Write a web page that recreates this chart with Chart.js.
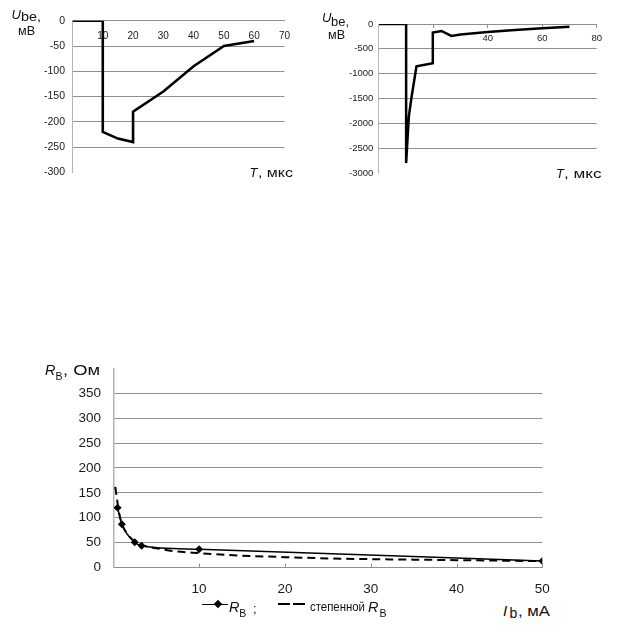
<!DOCTYPE html>
<html><head><meta charset="utf-8">
<script src="https://cdn.jsdelivr.net/npm/chart.js@4.4.1/dist/chart.umd.min.js"></script>
<style>
html,body{margin:0;padding:0;background:#fff}
body{width:617px;height:640px;position:relative;overflow:hidden;font-family:"Liberation Sans",Arial,sans-serif;color:#111;-webkit-font-smoothing:antialiased}
.box{position:absolute}
.t{position:absolute;white-space:nowrap;line-height:1;transform-origin:0 50%;color:#111}
.i{font-style:italic}
</style></head><body>
<div class="box" style="left:0;top:0;width:300px;height:190px"><canvas id="c1"></canvas></div>
<div class="box" style="left:300px;top:0;width:317px;height:190px"><canvas id="c2"></canvas></div>
<div class="box" style="left:0;top:360px;width:617px;height:240px"><canvas id="c3"></canvas></div>
<div id="txt"></div>
<script>
// ---- data: top-left chart ----
const t1 = [0, 10, 10, 15, 20, 20, 30, 40, 50, 60];
const u1 = [0, 0, -220, -233, -240, -180, -140, -90, -50, -40];
const t1Labels = [10, 20, 30, 40, 50, 60, 70];
// ---- data: top-right chart ----
const t2 = [0, 10, 10, 11, 12, 13.8, 19.8, 19.8, 23, 26.6, 30, 40, 50, 60, 70];
const u2 = [0, 0, -2800, -1860, -1470, -850, -790, -170, -140, -240, -210, -160, -120, -88, -55];
const t2Labels = [40, 60, 80];
// ---- data: bottom chart ----
const ib = [0.5, 1, 2.5, 3.3, 10, 50];
const rb = [120, 87, 51, 44, 37, 13];
const ibFit = [0.23, 0.43, 0.6, 1, 1.5, 2.5, 3.3, 5, 7, 10, 15, 20, 25, 30, 35, 40, 45, 50];
const rbFit = [162, 138, 117, 88, 71, 52, 45, 39, 33, 29, 24, 21, 18.5, 17, 16, 15, 14, 13];
const ibLabels = [10, 20, 30, 40, 50];
const rbLabels = [0, 50, 100, 150, 200, 250, 300, 350];

const FONT = '"Liberation Sans", Arial, sans-serif';
const GRID = '#8f8f8f';
const AXIS = '#b4b4b4';
const TXT = '#1a1a1a';
const pts = (xs, ys) => xs.map((x, i) => ({x, y: ys[i]}));
const hideAt = v => ctx => (ctx.tick && ctx.tick.value === v) ? 'rgba(0,0,0,0)' : GRID;
const plain = v => String(v);

Chart.defaults.font.family = FONT;
Chart.defaults.color = TXT;

const base = {
  responsive: true, maintainAspectRatio: false, animation: false,
  plugins: {legend: {display: false}, tooltip: {enabled: false}}
};
const fixY = w => s => { s.width = w; s.paddingTop = 0; s.paddingBottom = 0; };

new Chart(document.getElementById('c1'), {
  type: 'scatter',
  data: {datasets: [{data: pts(t1, u1), showLine: true, borderColor: '#000', borderWidth: 2.6,
    pointRadius: 0, tension: 0, borderJoinStyle: 'miter'}]},
  options: Object.assign({}, base, {
    layout: {padding: {left: 0, right: 12.6, top: 20.7, bottom: 17.5}},
    scales: {
      x: {type: 'linear', min: 0, max: 70, position: {y: 0},
        ticks: {stepSize: 10, padding: 10, font: {size: 10}, color: TXT,
          callback: v => t1Labels.includes(v) ? String(v) : ''},
        grid: {display: false, drawTicks: false}, border: {color: GRID, width: 1}},
      y: {type: 'linear', min: -300, max: 0,
        ticks: {stepSize: 50, padding: 7.5, font: {size: 10.5}, color: TXT, callback: plain},
        grid: {color: hideAt(-300), drawTicks: false, lineWidth: 1},
        border: {color: AXIS, width: 1},
        afterFit: fixY(72.5)}
    }
  })
});

new Chart(document.getElementById('c2'), {
  type: 'scatter',
  data: {datasets: [{data: pts(t2, u2), showLine: true, borderColor: '#000', borderWidth: 2.5,
    pointRadius: 0, tension: 0}]},
  options: Object.assign({}, base, {
    layout: {padding: {left: 0, right: 20.3, top: 24, bottom: 17}},
    scales: {
      x: {type: 'linear', min: 0, max: 80, position: {y: 0},
        ticks: {stepSize: 20, padding: 6, font: {size: 9.5}, color: TXT,
          callback: v => t2Labels.includes(v) ? String(v) : ''},
        grid: {display: true, drawOnChartArea: false, drawTicks: true, tickLength: 3, tickColor: GRID},
        border: {color: GRID, width: 1}},
      y: {type: 'linear', min: -3000, max: 0,
        ticks: {stepSize: 500, padding: 5.6, font: {size: 9.5}, color: TXT, callback: plain},
        grid: {color: hideAt(-3000), drawTicks: false},
        border: {color: AXIS, width: 1},
        afterFit: fixY(78.9)}
    }
  })
});

const innerTicks = {
  id: 'innerTicks',
  afterDraw(chart) {
    const {ctx, scales: {x, y}} = chart;
    ctx.save();
    ctx.strokeStyle = GRID; ctx.lineWidth = 1;
    const y0 = y.getPixelForValue(0);
    ibLabels.forEach(v => {
      const px = Math.round(x.getPixelForValue(v)) + 0.5;
      ctx.beginPath(); ctx.moveTo(px, y0); ctx.lineTo(px, y0 - 4); ctx.stroke();
    });
    ctx.restore();
  }
};

new Chart(document.getElementById('c3'), {
  type: 'scatter',
  data: {datasets: [
    {data: pts(ibFit, rbFit), showLine: true, borderColor: '#000', borderWidth: 2,
      borderDash: [8, 5], pointRadius: 0, cubicInterpolationMode: 'monotone'},
    {data: pts(ib, rb), showLine: true, borderColor: '#000', borderWidth: 1.5,
      pointStyle: 'rectRot', pointRadius: 4, pointBackgroundColor: '#000', pointBorderColor: '#000',
      pointBorderWidth: 0, cubicInterpolationMode: 'monotone'}
  ]},
  options: Object.assign({}, base, {
    layout: {padding: {left: 0, right: 74.7, top: 8.3, bottom: 0}},
    scales: {
      x: {type: 'linear', min: 0, max: 50, position: 'bottom',
        ticks: {stepSize: 10, padding: 14, font: {size: 13.5}, color: TXT,
          callback: v => ibLabels.includes(v) ? String(v) : ''},
        grid: {display: false, drawTicks: false}, border: {color: GRID, width: 1},
        afterFit: s => { s.height = 32.4; }},
      y: {type: 'linear', min: 0, max: 400,
        ticks: {stepSize: 50, padding: 12.3, font: {size: 13.5}, color: TXT,
          callback: v => rbLabels.includes(v) ? String(v) : ''},
        grid: {color: hideAt(400), drawTicks: false},
        border: {color: AXIS, width: 1.5},
        afterFit: fixY(113.3)}
    }
  }),
  plugins: [innerTicks]
});

// ---- axis titles and legend as real text ----
const txt = document.getElementById('txt');
function label(x, baseline, size, text, italic, width) {
  const s = document.createElement('span');
  s.className = 't' + (italic ? ' i' : '');
  s.style.left = x + 'px';
  s.style.top = (baseline - 0.8465 * size) + 'px';
  s.style.fontSize = size + 'px';
  s.textContent = text;
  txt.appendChild(s);
  if (width) {
    const w = s.getBoundingClientRect().width;
    if (w > 0) s.style.transform = 'scaleX(' + (width / w) + ')';
  }
  return s;
}
function line(x1, x2, y, w) {
  const d = document.createElement('div');
  d.style.position = 'absolute';
  d.style.left = x1 + 'px'; d.style.top = (y - w / 2) + 'px';
  d.style.width = (x2 - x1) + 'px'; d.style.height = w + 'px';
  d.style.background = '#000';
  txt.appendChild(d);
}
// top-left
label(11.5, 19.5, 13, 'U', true);
label(21, 21, 13, 'be,', false, 20);
label(17.5, 35, 13, 'мВ', false, 17);
label(249.5, 176.7, 13, 'T', true);
label(257.5, 176.7, 13, ', мкс', false, 35);
// top-right
label(322, 21.7, 13, 'U', true);
label(331, 26, 13, 'be,', false, 18);
label(328, 39.3, 13, 'мВ', false, 17);
label(556, 177.7, 13, 'T', true);
label(564, 177.7, 13, ', мкс', false, 37.5);
// bottom
label(45, 375, 14.5, 'R', true);
label(55.5, 379.5, 10.5, 'В', false);
label(62.5, 375, 14.5, ', Ом', false, 37);
label(503, 616, 15, 'I', true);
label(509.5, 617.5, 14, 'b', false);
label(518, 616, 14, ', мА', false, 32);
// legend
line(201.7, 228.3, 604.3, 1.5);
const dm = document.createElement('div');
dm.style.cssText = 'position:absolute;left:214.5px;top:601.3px;width:6px;height:6px;background:#000;transform:rotate(45deg)';
txt.appendChild(dm);
label(229, 612.7, 14.5, 'R', true);
label(239.3, 617.3, 10.5, 'В', false);
label(253, 612.7, 13, ';', false);
line(277.7, 290, 604.3, 2);
line(293.3, 305, 604.3, 2);
label(310, 610.7, 13, 'степенной', false, 55);
label(368, 612.7, 14.5, 'R', true);
label(379.5, 617.3, 10.5, 'В', false);
</script>
</body></html>
